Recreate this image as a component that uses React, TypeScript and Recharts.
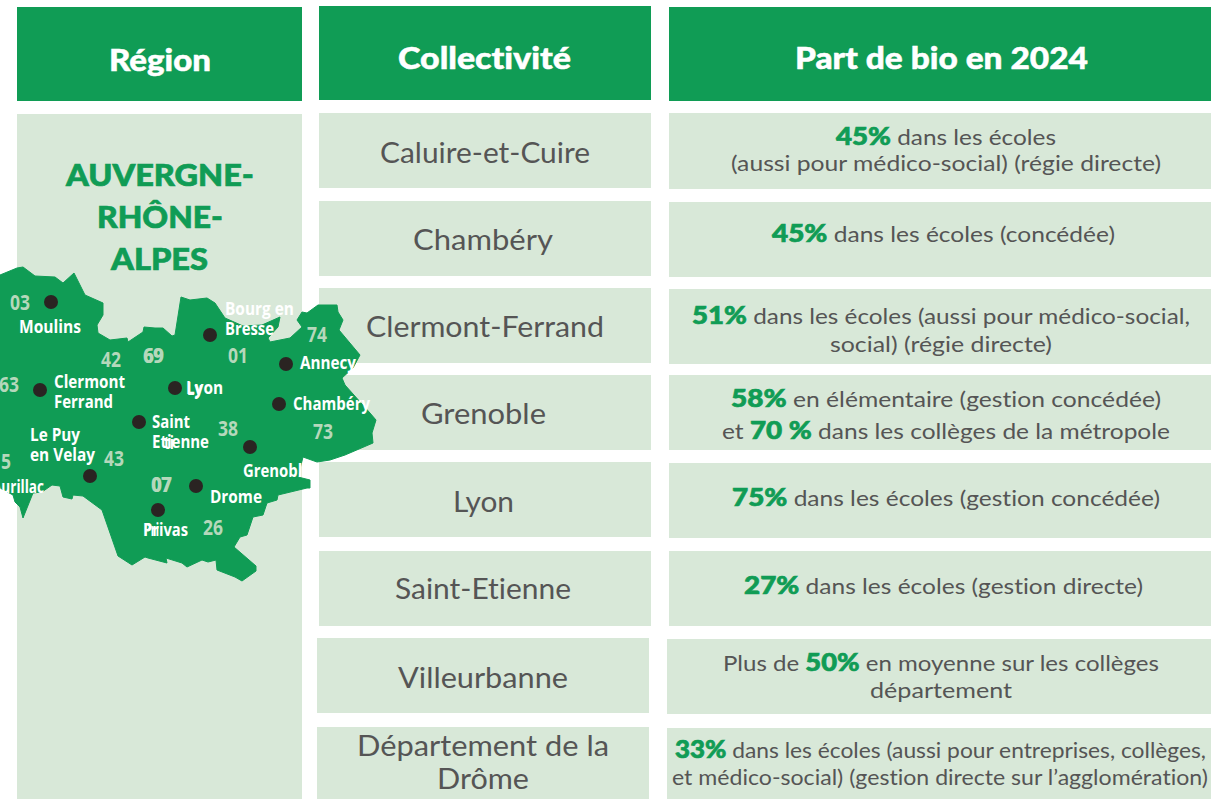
import { ScatterChart, Scatter, XAxis, YAxis, ReferenceArea } from "recharts";

const GREEN = "#109c55";
const PALE = "#d8e8d8";
const GREY = "#555555";
const DEPT = "#b5d8bb";
const BODY_FONT = "Lato, 'Noto Sans', sans-serif";
const MAP_FONT = "'Open Sans', sans-serif";

const columnHeaders = ["Région", "Collectivité", "Part de bio en 2024"];
const regionLines = ["AUVERGNE-", "RHÔNE-", "ALPES"];
const collectiviteLines = [
  ["Caluire-et-Cuire"],
  ["Chambéry"],
  ["Clermont-Ferrand"],
  ["Grenoble"],
  ["Lyon"],
  ["Saint-Etienne"],
  ["Villeurbanne"],
  ["Département de la", "Drôme"],
];
// *..* marks the bold green part of a line
const shareLines = [
  ["*45%* dans les écoles", "(aussi pour médico-social) (régie directe)"],
  ["*45%* dans les écoles (concédée)"],
  ["*51%* dans les écoles (aussi pour médico-social,", "social) (régie directe)"],
  ["*58%* en élémentaire (gestion concédée)", "et *70 %* dans les collèges de la métropole"],
  ["*75%* dans les écoles (gestion concédée)"],
  ["*27%* dans les écoles (gestion directe)"],
  ["Plus de *50%* en moyenne sur les collèges", "département"],
  ["*33%* dans les écoles (aussi pour entreprises, collèges,", "et médico-social) (gestion directe sur l’agglomération)"],
];

const cities = ["Moulins", "Clermont Ferrand", "Lyon", "Saint Etienne", "Le Puy en Velay", "Bourg en Bresse", "Annecy", "Chambéry", "Grenoble", "Drome", "Privas"];
const cityX = [51, 40, 175, 139, 90, 210, 286, 279, 250, 196, 158];
const cityY = [302, 390, 388, 422, 476, 335, 364, 404, 447, 486, 510];

const mapLabelTexts = ["Moulins", "Clermont", "Ferrand", "Lyon", "Ly", "Saint", "Etienne", "ti", "Le Puy", "en Velay", "Aurillac", "Bourg en", "Bresse", "Annecy", "Chambéry", "Grenoble", "Drome", "Privas", "Pri"];
const mapLabelLeft = [19, 54, 54, 186, 187, 152, 152, 164, 30, 30, -8, 225, 225, 300, 293, 243, 210, 143, 144];
const mapLabelBase = [333, 388, 408, 394, 395, 428, 448, 449, 441, 461, 493, 315, 335, 369, 410, 477, 503, 536, 536];
const mapLabelWidth = [62, 71, 59, 37, 15, 38, 57, 10, 50, 65, 52, 69, 49, 56, 77, 68, 52, 45, 15];

const departments = ["03", "42", "69", "69", "63", "01", "74", "38", "73", "43", "07", "07", "26", "15"];
const departmentLeft = [10, 101, 143, 144, -1, 228, 307, 218, 313, 104, 151, 152, 203, -9];
const departmentBase = [310, 367, 363, 363, 392, 363, 342, 436, 439, 466, 492, 492, 535, 469];

const mapOutlineX = [0, 17, 23, 35, 55, 63, 74, 85, 103, 103, 97, 98, 110, 127, 128, 143, 144, 155, 163, 172, 175, 181, 190, 207, 215, 225, 243, 262, 280, 278, 268, 270, 290, 302, 297, 302, 307, 318, 337, 338, 343, 339, 360, 353, 342, 345, 370, 376, 372, 373, 345, 330, 317, 303, 298, 310, 310, 307, 278, 277, 267, 263, 253, 247, 240, 234, 256, 256, 242, 235, 217, 216, 208, 202, 187, 182, 166, 167, 148, 145, 132, 118, 102, 83, 73, 72, 63, 60, 52, 42, 33, 23, 20, 15, 13, 0];
const mapOutlineY = [275, 268, 267, 276, 277, 283, 273, 295, 303, 315, 325, 333, 340, 338, 342, 332, 327, 328, 328, 336, 335, 297, 300, 298, 303, 318, 326, 325, 317, 327, 338, 342, 338, 327, 320, 312, 313, 305, 305, 312, 320, 330, 355, 368, 378, 385, 413, 420, 433, 443, 455, 460, 462, 457, 477, 480, 488, 488, 495, 500, 503, 515, 517, 535, 537, 547, 566, 571, 581, 577, 570, 560, 562, 560, 567, 563, 558, 563, 558, 557, 565, 556, 510, 496, 495, 499, 497, 486, 485, 492, 493, 518, 507, 502, 495, 488];

// layout, in page pixels
const headerCells = [[17, 302, 7, 101], [319, 651, 6, 100], [669, 1211, 7, 101]];
const headerLeft = [109, 398, 795];
const headerBase = [71, 69, 69];
const headerWidth = [102, 173, 293];
const regionCell = [17, 302, 114, 799];
const regionLeft = [66, 97, 111];
const regionBase = [186, 228, 270];
const regionWidth = [188, 126, 97];
const middleLefts = [319, 319, 319, 319, 319, 319, 317, 317];
const middleTops = [113, 201, 288, 375, 462, 551, 638, 727];
const middleBottoms = [188, 276, 363, 450, 537, 626, 713, 799];
const rightLefts = [669, 669, 669, 669, 669, 669, 667, 667];
const rightTops = [113, 202, 289, 375, 463, 551, 639, 728];
const rightBottoms = [189, 277, 364, 450, 538, 626, 714, 799];
const middleLineLeft = [[380], [413], [366], [421], [453], [395], [398], [357, 437]];
const middleLineBase = [[163], [250], [337], [424], [512], [599], [688], [756, 789]];
const middleLineWidth = [[210], [140], [238], [125], [61], [176], [170], [252, 92]];
const shareLineLeft = [[836, 731], [772], [692, 830], [731, 722], [732], [744], [723, 870], [675, 672]];
const shareLineBase = [[145, 171], [242], [324, 352], [407, 439], [506], [594], [671, 698], [758, 785]];
const shareLineWidth = [[220, 430], [343], [498, 222], [430, 448], [428], [399], [436, 142], [531, 536]];

type TextRow = { x: number; y: number; text: string; width: number; size: number; weight: number; color: string; font: string; heavy: number };

const row = (x: number, y: number, text: string, width: number, size: number, weight: number, color: string, font = BODY_FONT, heavy = 0): TextRow => ({ x, y, text, width, size, weight, color, font, heavy });

const tableText: TextRow[] = [
  ...columnHeaders.map((t, i) => row(headerLeft[i], headerBase[i], t, headerWidth[i], 30, 900, "#ffffff", BODY_FONT, 0.5)),
  ...regionLines.map((t, i) => row(regionLeft[i], regionBase[i], t, regionWidth[i], 31, 900, GREEN, BODY_FONT, 0.7)),
  ...collectiviteLines.flatMap((lines, r) => lines.map((t, i) => row(middleLineLeft[r][i], middleLineBase[r][i], t, middleLineWidth[r][i], 28, 400, GREY))),
  ...shareLines.flatMap((lines, r) => lines.map((t, i) => row(shareLineLeft[r][i], shareLineBase[r][i], t, shareLineWidth[r][i], 22, 400, GREY))),
];
const mapLabels: TextRow[] = mapLabelTexts.map((t, i) => row(mapLabelLeft[i], mapLabelBase[i], t, mapLabelWidth[i], 18, 700, "#ffffff", MAP_FONT));
const departmentLabels: TextRow[] = departments.map((t, i) => row(departmentLeft[i], departmentBase[i], t, 20, 22, 700, DEPT, MAP_FONT));
const mapOutline = mapOutlineX.map((x, i) => ({ x, y: mapOutlineY[i] }));
const cityPoints = cities.map((name, i) => ({ name, x: cityX[i], y: cityY[i] }));

const TextShape = (props: any) => {
  const d: TextRow = props.payload;
  const parts = d.text.split("*");
  return (
    <text
      x={props.cx}
      y={props.cy}
      fontFamily={d.font}
      fontSize={d.size}
      fontWeight={d.weight}
      fill={d.color}
      stroke={d.heavy ? d.color : "none"}
      strokeWidth={d.heavy}
      textLength={d.width}
      lengthAdjust="spacingAndGlyphs"
      style={{ fontVariantLigatures: "none" }}
    >
      {parts.map((p, i) =>
        i % 2 === 1 ? (
          <tspan key={i} fontWeight={900} fill={GREEN} stroke={GREEN} strokeWidth={0.7} fontSize={d.size + 3}>
            {p}
          </tspan>
        ) : (
          <tspan key={i}>{p}</tspan>
        ),
      )}
    </text>
  );
};

const Cell = (x1: number, x2: number, y1: number, y2: number, fill: string, key: string) => (
  <ReferenceArea key={key} x1={x1} x2={x2} y1={y1} y2={y2} fill={fill} fillOpacity={1} stroke="none" ifOverflow="visible" />
);

export default function App() {
  return (
    <div style={{ position: "fixed", left: 0, top: 0, width: 1211, height: 799, background: "#fff", overflow: "hidden" }}>
      <ScatterChart width={1211} height={799} margin={{ top: 0, right: 0, bottom: 0, left: 0 }}>
        <XAxis type="number" dataKey="x" domain={[0, 1211]} hide allowDataOverflow />
        <YAxis type="number" dataKey="y" domain={[0, 799]} reversed hide allowDataOverflow />
        {headerCells.map((c, i) => Cell(c[0], c[1], c[2], c[3], GREEN, `h${i}`))}
        {Cell(regionCell[0], regionCell[1], regionCell[2], regionCell[3], PALE, "region")}
        {middleTops.map((t, i) => Cell(middleLefts[i], middleLefts[i] + 332, t, middleBottoms[i], PALE, `m${i}`))}
        {rightTops.map((t, i) => Cell(rightLefts[i], 1211, t, rightBottoms[i], PALE, `r${i}`))}
        <Scatter data={mapOutline} line={{ fill: GREEN, stroke: GREEN, strokeWidth: 1 }} shape={() => <g />} isAnimationActive={false} />
        <Scatter data={tableText} shape={TextShape} isAnimationActive={false} />
        <Scatter data={departmentLabels} shape={TextShape} isAnimationActive={false} />
        <Scatter data={mapLabels} shape={TextShape} isAnimationActive={false} />
        <Scatter
          data={cityPoints}
          shape={(p: any) => <circle cx={p.cx} cy={p.cy} r={7} fill="#2a2422" />}
          isAnimationActive={false}
        />
      </ScatterChart>
    </div>
  );
}
